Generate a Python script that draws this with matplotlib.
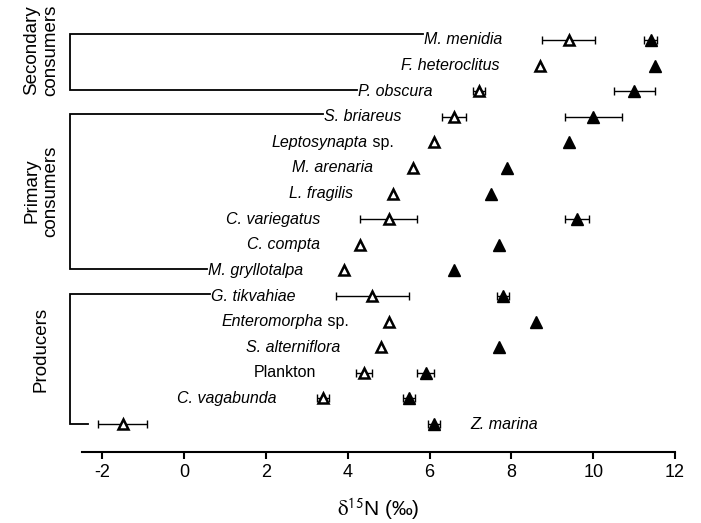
import matplotlib
matplotlib.use("Agg")
import matplotlib.pyplot as plt
import numpy as np

plt.rcParams['font.family'] = ['Liberation Sans', 'DejaVu Sans']
plt.rcParams['mathtext.fontset'] = 'stix'

# Taxa, top to bottom
taxa = ["M. menidia", "F. heteroclitus", "P. obscura", "S. briareus",
        "Leptosynapta sp.", "M. arenaria", "L. fragilis", "C. variegatus",
        "C. compta", "M. gryllotalpa", "G. tikvahiae", "Enteromorpha sp.",
        "S. alterniflora", "Plankton", "C. vagabunda", "Z. marina"]
# open triangles and filled triangles, delta15N (per mil)
open_vals = [9.4, 8.7, 7.2, 6.6, 6.1, 5.6, 5.1, 5.0, 4.3, 3.9, 4.6, 5.0, 4.8, 4.4, 3.4, -1.5]
open_err = [0.65, 0.0, 0.15, 0.3, 0.0, 0.0, 0.0, 0.7, 0.0, 0.0, 0.9, 0.0, 0.0, 0.2, 0.15, 0.6]
filled_vals = [11.4, 11.5, 11.0, 10.0, 9.4, 7.9, 7.5, 9.6, 7.7, 6.6, 7.8, 8.6, 7.7, 5.9, 5.5, 6.1]
filled_err = [0.15, 0.0, 0.5, 0.7, 0.0, 0.0, 0.0, 0.3, 0.0, 0.0, 0.15, 0.0, 0.0, 0.2, 0.15, 0.15]

groups = ["Secondary\nconsumers", "Primary\nconsumers", "Producers"]
group_rows = [(0, 2), (3, 9), (10, 15)]

xticks = [-2, 0, 2, 4, 6, 8, 10, 12]

n = len(taxa)
ypos = np.arange(n)[::-1].astype(float)  # top row highest

fig = plt.figure(figsize=(7.01, 5.23), dpi=100)
ax = fig.add_axes([0.117, 0.1358, 0.846, 0.826])
ax.set_xlim(-2.5, 12)
ax.set_ylim(-1.09, 15.78)

for i in range(n):
    y = ypos[i]
    if open_err[i] > 0:
        ax.errorbar(open_vals[i], y, xerr=open_err[i], fmt='none', ecolor='black',
                    elinewidth=1.0, capsize=3, capthick=1.0, zorder=2)
    if filled_err[i] > 0:
        ax.errorbar(filled_vals[i], y, xerr=filled_err[i], fmt='none', ecolor='black',
                    elinewidth=1.0, capsize=3, capthick=1.0, zorder=2)
ax.plot(open_vals, ypos, linestyle='none', marker='^', markersize=6.5,
        markerfacecolor='white', markeredgecolor='black', markeredgewidth=1.8, zorder=3)
ax.plot(filled_vals, ypos, linestyle='none', marker='^', markersize=8,
        markerfacecolor='black', markeredgecolor='black', zorder=3)

# taxon labels
texts = []
for i in range(n):
    y = ypos[i]
    name = taxa[i]
    if name == "Z. marina":
        t = ax.annotate(name, xy=(filled_vals[i] + filled_err[i], y), xytext=(22, 0),
                        textcoords='offset points', ha='left', va='center',
                        fontsize=11.5, style='italic')
    else:
        left = min(open_vals[i] - open_err[i], filled_vals[i] - filled_err[i])
        t = ax.annotate(name, xy=(left, y), xytext=(-29, 0), textcoords='offset points',
                        ha='right', va='center', fontsize=11.5,
                        style='normal' if name == "Plankton" else 'italic')
    texts.append(t)

# " sp." upright: split into two texts
fig.canvas.draw()
renderer = fig.canvas.get_renderer()
inv = ax.transData.inverted()
for i, t in enumerate(texts):
    name = taxa[i]
    if name.endswith(" sp."):
        bb = t.get_window_extent(renderer)
        t.set_visible(False)
        yc = (bb.y0 + bb.y1) / 2
        xr = inv.transform((bb.x1, yc))[0]
        t2 = ax.text(xr, ypos[i], " sp.", ha='right', va='center', fontsize=11.5)
        fig.canvas.draw()
        bb2 = t2.get_window_extent(renderer)
        xl = inv.transform((bb2.x0, yc))[0]
        t1 = ax.text(xl, ypos[i], name[:-4], ha='right', va='center',
                     fontsize=11.5, style='italic')
        texts[i] = t1

fig.canvas.draw()
inv = ax.transData.inverted()
bx = -2.79
top_off = [0.22, 0.12, 0.08]
for (r0, r1), off in zip(group_rows, top_off):
    bb0 = texts[r0].get_window_extent(renderer)
    x_end0 = inv.transform((bb0.x0 - 1, 0))[0]
    y0 = ypos[r0] + off
    if taxa[r1] == "Z. marina":
        x_end1 = -2.35
        y1 = ypos[r1]
    else:
        bb1 = texts[r1].get_window_extent(renderer)
        x_end1 = inv.transform((bb1.x0 - 1, 0))[0]
        y1 = ypos[r1] + 0.05
    ax.plot([x_end0, bx, bx, x_end1], [y0, y0, y1, y1], color='black', lw=1.3,
            clip_on=False, solid_joinstyle='miter')

# group labels
group_label_y = [14.6, 9.1, 2.9]
for g, gy in zip(groups, group_label_y):
    ax.text(-3.5, gy, g, rotation=90, ha='center', va='center', fontsize=13.5,
            linespacing=1.15, clip_on=False)

for s in ['top', 'right', 'left']:
    ax.spines[s].set_visible(False)
ax.spines['bottom'].set_linewidth(1.5)
ax.set_yticks([])
ax.set_xticks(xticks)
ax.set_xticklabels([str(v) for v in xticks])
ax.tick_params(axis='x', direction='out', length=5, width=1.5, labelsize=13, pad=4)
ax.set_xlabel(r"$\mathrm{\delta}^{\mathsf{15}}$N (‰)", fontsize=15, labelpad=11)

fig.savefig("out.png", dpi=100)
